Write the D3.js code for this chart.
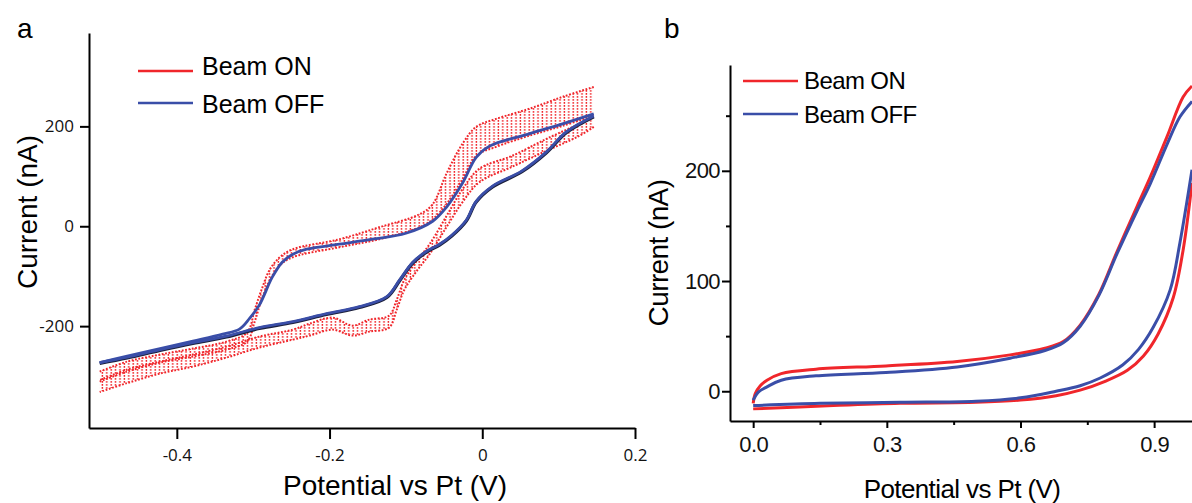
<!DOCTYPE html>
<html>
<head>
<meta charset="utf-8">
<script src="https://cdn.jsdelivr.net/npm/d3@7"></script>
<style>
  body { margin: 0; background: #fff; }
  svg { display: block; }
  .tick text { fill: #111; }
</style>
</head>
<body>
<div></div>
<script>
const width = 1192;
const height = 503;

// ---- panel a : CV, potential (V) / current (nA) ----
const aOffForward = [
  [-0.501, -273], [-0.465, -260], [-0.422, -245], [-0.379, -230], [-0.34, -216],
  [-0.318, -206], [-0.305, -185], [-0.292, -158], [-0.275, -102], [-0.262, -72],
  [-0.248, -56], [-0.23, -46], [-0.187, -36], [-0.144, -26], [-0.1, -14],
  [-0.065, 10], [-0.047, 38], [-0.026, 86], [-0.008, 138], [0.009, 160],
  [0.061, 185], [0.105, 205], [0.146, 225]
];
const aOffReverse = [
  [0.146, 221], [0.11, 189], [0.084, 149], [0.052, 111], [0.013, 80],
  [-0.008, 50], [-0.021, 12], [-0.04, -18], [-0.056, -36], [-0.073, -50],
  [-0.091, -72], [-0.108, -107], [-0.125, -141], [-0.161, -161], [-0.204, -175],
  [-0.248, -191], [-0.292, -203], [-0.335, -220], [-0.379, -233], [-0.422, -247],
  [-0.465, -262], [-0.501, -273]
];
// beam ON: [potential, lower edge, upper edge] of the oscillating trace
const aOnForward = [
  [-0.501, -311, -291], [-0.465, -291, -271], [-0.422, -273, -257], [-0.379, -261, -245],
  [-0.335, -247, -231], [-0.308, -231, -213], [-0.298, -191, -167], [-0.289, -147, -127],
  [-0.278, -107, -86], [-0.265, -78, -62], [-0.248, -62, -46], [-0.187, -42, -26],
  [-0.135, -26, -2], [-0.082, -2, 24], [-0.065, 14, 44], [-0.047, 44, 105],
  [-0.026, 94, 165], [-0.008, 141, 199], [0.018, 159, 215], [0.061, 181, 235],
  [0.105, 201, 259], [0.146, 221, 279]
];
const aOnReverse = [
  [0.146, 199, 219], [0.127, 181, 205], [0.084, 151, 175], [0.039, 119, 141],
  [-0.004, 88, 115], [-0.026, 48, 74], [-0.047, -2, 20], [-0.069, -56, -36],
  [-0.086, -90, -70], [-0.102, -127, -107], [-0.112, -167, -147], [-0.122, -203, -179],
  [-0.148, -211, -187], [-0.17, -219, -199], [-0.196, -207, -183], [-0.226, -219, -195],
  [-0.248, -227, -207], [-0.292, -243, -221], [-0.335, -263, -241], [-0.379, -281, -257],
  [-0.422, -295, -271], [-0.465, -314, -287], [-0.501, -332, -308]
];
const aXTicks = [-0.4, -0.2, 0, 0.2];
const aYTicks = [-200, 0, 200];

// ---- panel b ----
const bOnForward = [
  [0, -11], [0.005, -2], [0.016, 5], [0.031, 10], [0.063, 16], [0.141, 20],
  [0.298, 23], [0.458, 27], [0.577, 33], [0.655, 39], [0.696, 45], [0.734, 60],
  [0.776, 88], [0.817, 127], [0.862, 168], [0.891, 194], [0.929, 231], [0.965, 267],
  [0.985, 277]
];
const bOnReverse = [
  [0.985, 189], [0.965, 128], [0.943, 85], [0.909, 52], [0.876, 32], [0.84, 19],
  [0.79, 9], [0.734, 1], [0.68, -4], [0.6, -8], [0.5, -10], [0.33, -11], [0.18, -13],
  [0, -16]
];
const bOffForward = [
  [0, -8], [0.011, -1], [0.031, 4], [0.063, 10], [0.141, 14], [0.298, 17],
  [0.458, 22], [0.577, 30], [0.655, 37], [0.696, 44], [0.734, 59], [0.776, 87],
  [0.817, 125], [0.862, 164], [0.891, 188], [0.929, 224], [0.958, 249], [0.985, 263]
];
const bOffReverse = [
  [0.985, 201], [0.958, 135], [0.936, 92], [0.898, 58], [0.865, 38], [0.83, 24],
  [0.779, 12], [0.734, 5], [0.68, 0], [0.6, -6], [0.5, -9], [0.33, -10], [0.15, -11],
  [0, -13]
];
const bXTicks = [0, 0.3, 0.6, 0.9];
const bXMinor = [0.15, 0.45, 0.75];
const bYTicks = [0, 100, 200];
const bYMinor = [50, 150, 250];

const legendLabels = ["Beam ON", "Beam OFF"];
const red = "#f0262b";
const blue = "#3a4ea8";
const sans = "'Liberation Sans', Arial, sans-serif";

const svg = d3
  .select("div")
  .append("svg")
  .attr("width", width)
  .attr("height", height)
  .style("background", "#fff");

// vertical dotted strokes for the oscillating beam-on trace
const defs = svg.append("defs");
const hatch = defs
  .append("pattern")
  .attr("id", "hatch")
  .attr("patternUnits", "userSpaceOnUse")
  .attr("width", 4.4)
  .attr("height", 3);
hatch
  .append("line")
  .attr("x1", 1.2)
  .attr("x2", 1.2)
  .attr("y1", 0)
  .attr("y2", 3)
  .attr("stroke", red)
  .attr("stroke-width", 1.4)
  .attr("stroke-dasharray", "1.8 1.2");

// ================= panel a =================
const xa = d3.scaleLinear().domain([-0.515, 0.2]).range([89, 635]);
const ya = d3.scaleLinear().domain([-404, 387]).range([428, 33]);

const ga = svg.append("g");

const bandA = d3
  .area()
  .x((d) => xa(d[0]))
  .y0((d) => ya(d[1]))
  .y1((d) => ya(d[2]))
  .curve(d3.curveCatmullRom);
const edgeLo = d3
  .line()
  .x((d) => xa(d[0]))
  .y((d) => ya(d[1]))
  .curve(d3.curveCatmullRom);
const edgeHi = d3
  .line()
  .x((d) => xa(d[0]))
  .y((d) => ya(d[2]))
  .curve(d3.curveCatmullRom);
const lineA = d3
  .line()
  .x((d) => xa(d[0]))
  .y((d) => ya(d[1]))
  .curve(d3.curveCatmullRom);

[aOnForward, aOnReverse].forEach((s) => {
  ga.append("path").attr("d", bandA(s)).attr("fill", "url(#hatch)");
  [edgeLo, edgeHi].forEach((fn) => {
    ga.append("path")
      .attr("d", fn(s))
      .attr("fill", "none")
      .attr("stroke", red)
      .attr("stroke-width", 2)
      .attr("stroke-dasharray", "1.8 1.6");
  });
});

// dark trace under the beam-off curve
ga.append("path")
  .attr("d", lineA(aOffReverse))
  .attr("fill", "none")
  .attr("stroke", "#1b1f3a")
  .attr("stroke-width", 3.4)
  .attr("transform", "translate(0,0.8)");

[aOffForward, aOffReverse].forEach((s) => {
  ga.append("path")
    .attr("d", lineA(s))
    .attr("fill", "none")
    .attr("stroke", blue)
    .attr("stroke-width", 2.8);
});

const axA_x = ga
  .append("g")
  .attr("transform", "translate(0," + ya.range()[0] + ")")
  .call(
    d3.axisBottom(xa).tickValues(aXTicks).tickSize(11).tickSizeOuter(0)
      .tickFormat((d) => String(d))
  );
const axA_y = ga
  .append("g")
  .attr("transform", "translate(" + xa.range()[0] + ",0)")
  .call(
    d3.axisLeft(ya).tickValues(aYTicks).tickSize(9).tickSizeOuter(0).tickPadding(6)
      .tickFormat((d) => String(d))
  );
[axA_x, axA_y].forEach((ax) => {
  ax.selectAll("path, line").attr("stroke", "#000").attr("stroke-width", 2);
  ax.selectAll("text")
    .attr("font-family", "'Open Sans', sans-serif")
    .attr("font-size", 17);
});
axA_x.selectAll("text").attr("dy", null).attr("y", 33);

ga.append("text")
  .attr("x", 395)
  .attr("y", 495)
  .attr("text-anchor", "middle")
  .attr("font-family", sans)
  .attr("font-size", 28)
  .text("Potential vs Pt (V)");
ga.append("text")
  .attr("transform", "translate(37,212) rotate(-90)")
  .attr("text-anchor", "middle")
  .attr("font-family", sans)
  .attr("font-size", 28)
  .text("Current (nA)");
ga.append("text")
  .attr("x", 17)
  .attr("y", 38)
  .attr("font-family", sans)
  .attr("font-size", 28)
  .text("a");

legendLabels.forEach((lab, i) => {
  ga.append("line")
    .attr("x1", 138)
    .attr("x2", 193)
    .attr("y1", 71 + i * 32)
    .attr("y2", 71 + i * 32)
    .attr("stroke", i === 0 ? red : blue)
    .attr("stroke-width", 2.6);
  ga.append("text")
    .attr("x", 202)
    .attr("y", 75 + i * 38)
    .attr("font-family", sans)
    .attr("font-size", 25)
    .text(lab);
});

// ================= panel b =================
const xb = d3.scaleLinear().domain([-0.052, 0.985]).range([730, 1192]);
const yb = d3.scaleLinear().domain([-27, 296]).range([421, 65]);

const gb = svg.append("g");

const lineB = d3
  .line()
  .x((d) => xb(d[0]))
  .y((d) => yb(d[1]))
  .curve(d3.curveCatmullRom);

[
  [bOnForward, red],
  [bOnReverse, red],
  [bOffReverse, blue],
  [bOffForward, blue],
].forEach(([s, c]) => {
  gb.append("path")
    .attr("d", lineB(s))
    .attr("fill", "none")
    .attr("stroke", c)
    .attr("stroke-width", 3);
});

const axB_x = gb
  .append("g")
  .attr("transform", "translate(0," + yb.range()[0] + ")")
  .call(
    d3.axisBottom(xb).tickValues(bXTicks).tickSize(7).tickSizeOuter(0)
      .tickFormat(d3.format(".1f"))
  );
const axB_y = gb
  .append("g")
  .attr("transform", "translate(" + xb.range()[0] + ",0)")
  .call(
    d3.axisLeft(yb).tickValues(bYTicks).tickSize(8).tickSizeOuter(0).tickPadding(2)
      .tickFormat((d) => String(d))
  );
gb.append("g")
  .attr("transform", "translate(0," + yb.range()[0] + ")")
  .call(d3.axisBottom(xb).tickValues(bXMinor).tickSize(4).tickFormat(""))
  .select(".domain")
  .remove();
gb.append("g")
  .attr("transform", "translate(" + xb.range()[0] + ",0)")
  .call(d3.axisLeft(yb).tickValues(bYMinor).tickSize(4).tickFormat(""))
  .select(".domain")
  .remove();
gb.selectAll("path.domain, .tick line").attr("stroke", "#000").attr("stroke-width", 2);
[axB_x, axB_y].forEach((ax) => {
  ax.selectAll("text")
    .attr("font-family", sans)
    .attr("font-size", 22)
    .attr("letter-spacing", -0.6);
});
axB_x.selectAll("text").attr("dy", null).attr("y", 31);

gb.append("text")
  .attr("x", 962)
  .attr("y", 498)
  .attr("text-anchor", "middle")
  .attr("font-family", sans)
  .attr("font-size", 26)
  .attr("letter-spacing", -0.6)
  .text("Potential vs Pt (V)");
gb.append("text")
  .attr("transform", "translate(668,253) rotate(-90)")
  .attr("text-anchor", "middle")
  .attr("font-family", sans)
  .attr("font-size", 28)
  .attr("letter-spacing", -0.6)
  .text("Current (nA)");
gb.append("text")
  .attr("x", 664)
  .attr("y", 38)
  .attr("font-family", sans)
  .attr("font-size", 28)
  .text("b");

legendLabels.forEach((lab, i) => {
  gb.append("line")
    .attr("x1", 743)
    .attr("x2", 798)
    .attr("y1", 81 + i * 33)
    .attr("y2", 81 + i * 33)
    .attr("stroke", i === 0 ? red : blue)
    .attr("stroke-width", 2.6);
  gb.append("text")
    .attr("x", 804)
    .attr("y", 89 + i * 34)
    .attr("font-family", sans)
    .attr("font-size", 24)
    .attr("letter-spacing", -0.6)
    .text(lab);
});
</script>
</body>
</html>
